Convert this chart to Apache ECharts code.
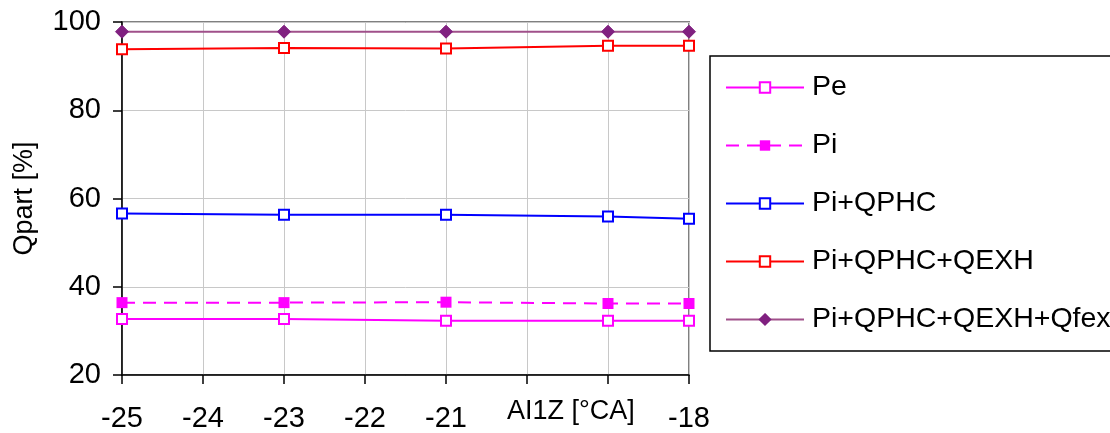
<!DOCTYPE html>
<html>
<head>
<meta charset="utf-8">
<style>
  html, body { margin: 0; padding: 0; background: #fff; }
  #chart { width: 1110px; height: 433px; }
</style>
<script src="https://cdn.jsdelivr.net/npm/echarts@6/dist/echarts.min.js"></script>
</head>
<body>
<div id="chart"></div>
<script>
// Ignition timing sweep (AI1Z) and energy fractions
const aiz = [-25, -23, -21, -19, -18];
const pe = [32.7, 32.7, 32.3, 32.3, 32.3];
const pi = [36.4, 36.4, 36.5, 36.2, 36.2];
const piQphc = [56.6, 56.3, 56.3, 55.9, 55.4];
const piQphcQexh = [93.8, 94.1, 94.0, 94.6, 94.6];
const piQphcQexhQfex = [97.8, 97.8, 97.8, 97.8, 97.8];

const xTicks = [-25, -24, -23, -22, -21, -20, -19, -18];
const xTickLabelsShown = [-25, -24, -23, -22, -21, -18];
const yTicks = [20, 40, 60, 80, 100];

const FONT = "'Liberation Sans', Arial, sans-serif";

function pairs(xs, ys) { return xs.map((x, i) => [x, ys[i]]); }

const chart = echarts.init(document.getElementById('chart'), null, { renderer: 'canvas' });

chart.setOption({
  animation: false,
  backgroundColor: '#ffffff',
  grid: {
    left: 122, right: 421, top: 22, bottom: 58,
    show: true, borderColor: '#808080', borderWidth: 2, backgroundColor: 'transparent'
  },
  xAxis: {
    type: 'value',
    min: xTicks[0], max: xTicks[xTicks.length - 1], interval: 1,
    axisLine: { show: true, onZero: false, lineStyle: { color: '#000', width: 1.5 } },
    axisTick: { show: true, length: 9, lineStyle: { color: '#000', width: 1.5 } },
    splitLine: { show: true, lineStyle: { color: '#c8c8c8', width: 1 } },
    axisLabel: {
      margin: 29, fontSize: 29, color: '#000', fontFamily: FONT,
      formatter: v => xTickLabelsShown.includes(v) ? String(v) : ''
    }
  },
  yAxis: {
    type: 'value',
    min: yTicks[0], max: yTicks[yTicks.length - 1], interval: 20,
    name: 'Qpart [%]', nameLocation: 'middle', nameGap: 84, nameRotate: 90,
    nameTextStyle: { fontSize: 27, color: '#000', fontFamily: FONT },
    axisLine: { show: true, lineStyle: { color: '#000', width: 1.5 } },
    axisTick: { show: true, length: 9, lineStyle: { color: '#000', width: 1.5 } },
    splitLine: { show: true, lineStyle: { color: '#c8c8c8', width: 1 } },
    axisLabel: { margin: 21, fontSize: 29, color: '#000', fontFamily: FONT }
  },
  legend: {
    orient: 'vertical', left: 710, top: 56,
    padding: [17, 320, 17, 15],
    itemGap: 29, itemWidth: 78, itemHeight: 13,
    borderColor: '#000', borderWidth: 1.5, backgroundColor: '#fff',
    textStyle: { fontSize: 28.5, color: '#000', fontFamily: FONT, padding: [0, 0, 0, 3] },
    data: ['Pe', 'Pi', 'Pi+QPHC', 'Pi+QPHC+QEXH', 'Pi+QPHC+QEXH+Qfex']
  },
  graphic: [{
    type: 'text', left: 507, top: 398,
    style: { text: 'AI1Z [°CA]', fontSize: 27, fill: '#000', fontFamily: FONT }
  }],
  series: [
    {
      name: 'Pe', type: 'line', data: pairs(aiz, pe),
      symbol: 'emptyRect', symbolSize: 10, color: '#ff00ff',
      lineStyle: { color: '#ff00ff', width: 2 },
      itemStyle: { color: '#ff00ff', borderWidth: 2 }
    },
    {
      name: 'Pi', type: 'line', data: pairs(aiz, pi),
      symbol: 'rect', symbolSize: 11, color: '#ff00ff',
      lineStyle: { color: '#ff00ff', width: 2, type: [13, 8] },
      itemStyle: { color: '#ff00ff' }
    },
    {
      name: 'Pi+QPHC', type: 'line', data: pairs(aiz, piQphc),
      symbol: 'emptyRect', symbolSize: 10, color: '#0000ff',
      lineStyle: { color: '#0000ff', width: 2 },
      itemStyle: { color: '#0000ff', borderWidth: 2 }
    },
    {
      name: 'Pi+QPHC+QEXH', type: 'line', data: pairs(aiz, piQphcQexh),
      symbol: 'emptyRect', symbolSize: 10, color: '#ff0000',
      lineStyle: { color: '#ff0000', width: 2 },
      itemStyle: { color: '#ff0000', borderWidth: 2 }
    },
    {
      name: 'Pi+QPHC+QEXH+Qfex', type: 'line', data: pairs(aiz, piQphcQexhQfex),
      symbol: 'diamond', symbolSize: 13, color: '#800080',
      lineStyle: { color: '#a0508a', width: 2 },
      itemStyle: { color: '#802080', borderColor: '#802080', borderWidth: 1 }
    }
  ]
});
</script>
</body>
</html>
